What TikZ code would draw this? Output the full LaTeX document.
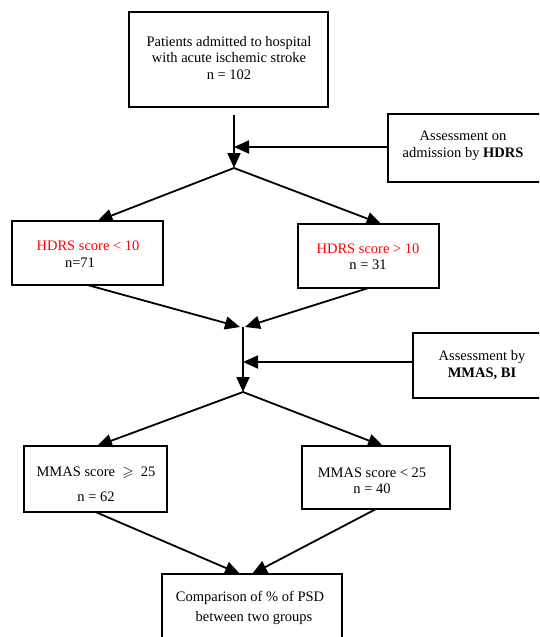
\documentclass[tikz,border=0pt]{standalone}
\usepackage{fontspec}
\setmainfont{Liberation Serif}
\usepackage{amssymb}
\usetikzlibrary{arrows.meta}
\begin{document}
\begin{tikzpicture}[x=1pt,y=-1pt,
  box/.style={draw, line width=1.3pt, rectangle, inner sep=0pt, outer sep=0pt},
  txt/.style={align=center, inner sep=0pt, font=\fontsize{14.5}{16.5}\selectfont},
  conn/.style={line width=1.8pt},
  arr/.style={conn, -{Triangle[length=15pt,width=13pt]}}]
\useasboundingbox (0,0) rectangle (539,637);
\clip (0,0) rectangle (539,637);

% boxes
\node[box, minimum width=199pt, minimum height=95pt] (top) at (228.5,59.5) {};
\node[box, minimum width=157pt, minimum height=68pt] (a1) at (466.5,148) {};
\node[box, minimum width=151pt, minimum height=64pt] (hl) at (87.5,253) {};
\node[box, minimum width=141pt, minimum height=64pt] (hr) at (368.5,256) {};
\node[box, minimum width=132pt, minimum height=65pt] (a2) at (479,365.5) {};
\node[box, minimum width=143pt, minimum height=66pt] (ml) at (95.5,479) {};
\node[box, minimum width=148pt, minimum height=63pt] (mr) at (376,477.5) {};
\node[box, minimum width=180pt, minimum height=86pt] (cmp) at (252,617) {};

% texts
\node[txt] (toptxt) at (229,58)
  {Patients admitted to hospital\\with acute ischemic stroke\\n = 102};
\node[txt] (a1txt) at (463,146) {Assessment on\\admission by \textbf{HDRS}};
\node[txt] (hltxt) at (88,254) {\textcolor{red}{HDRS score < 10}\\n=71\hspace*{16pt}};
\node[txt] (hrtxt) at (368,256.5) {\textcolor{red}{HDRS score > 10}\\n = 31};
\node[txt] (a2txt) at (482,365) {Assessment by\\\textbf{MMAS, BI}};
\node[txt] (mltxt) at (96,484.5) {MMAS score~~$\geqslant$~~25\\[8.5pt]n = 62};
\node[txt] (mrtxt) at (372,481) {MMAS score < 25\\n = 40};
\node[txt] (cmptxt) at (250,608) {Comparison of \% of PSD\\[3.5pt]\hspace*{8pt}between two groups};

% junctions
\coordinate (j1top) at (234,115);
\coordinate (j1) at (234,168);
\coordinate (j2top) at (243,327);
\coordinate (j2) at (243,392);

% connectors
\draw[arr] (j1top) -- (j1);
\draw[arr] ([yshift=1pt]a1.west) -- ([yshift=1pt]a1.west -| j1);
\draw[arr] (j1) -- ([xshift=10pt]hl.north);
\draw[arr] (j1) -- ([xshift=13pt]hr.north);
\draw[arr] (hl.south) -- ([xshift=-3pt]j2top);
\draw[arr] (hr.south) -- ([xshift=2pt]j2top);
\draw[arr] (j2top) -- (j2);
\draw[arr] ([yshift=3.5pt]a2.west) -- ([yshift=3.5pt]a2.west -| j2);
\draw[arr] (j2) -- ([xshift=1.5pt]ml.north);
\draw[arr] (j2) -- ([xshift=7pt]mr.north);
\draw[arr] (ml.south) -- ([xshift=-12pt]cmp.north);
\draw[arr] (mr.south) -- (cmp.north);
\end{tikzpicture}
\end{document}
